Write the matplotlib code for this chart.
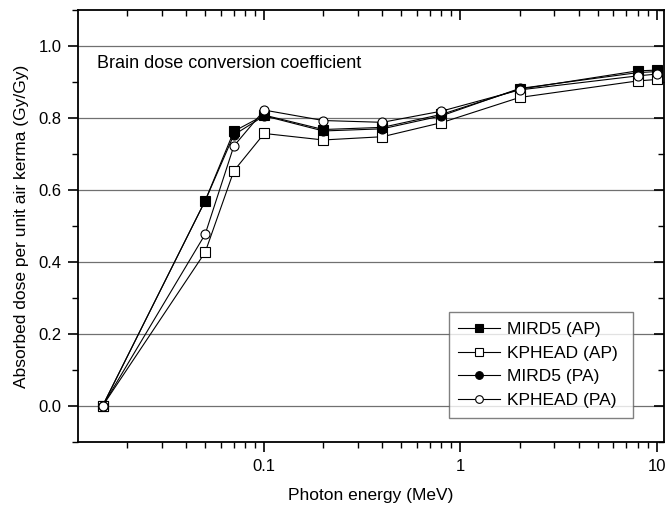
import matplotlib
matplotlib.use("Agg")
import matplotlib.pyplot as plt
from matplotlib.ticker import MultipleLocator, LogLocator, NullFormatter, FixedLocator, FixedFormatter

plt.rcParams['font.family'] = ['Liberation Sans', 'DejaVu Sans']

energy = [0.015, 0.05, 0.07, 0.1, 0.2, 0.4, 0.8, 2, 8, 10]
mird5_ap = [0.0, 0.570, 0.763, 0.808, 0.768, 0.774, 0.810, 0.880, 0.931, 0.933]
kphead_ap = [0.0, 0.427, 0.653, 0.757, 0.739, 0.748, 0.787, 0.857, 0.903, 0.907]
mird5_pa = [0.0, 0.570, 0.753, 0.806, 0.764, 0.770, 0.806, 0.882, 0.926, 0.929]
kphead_pa = [0.0, 0.477, 0.722, 0.822, 0.793, 0.788, 0.819, 0.878, 0.917, 0.922]

series = [
    ("MIRD5 (AP)", mird5_ap, 's', 'black'),
    ("KPHEAD (AP)", kphead_ap, 's', 'white'),
    ("MIRD5 (PA)", mird5_pa, 'o', 'black'),
    ("KPHEAD (PA)", kphead_pa, 'o', 'white'),
]

fig = plt.figure(figsize=(6.67, 5.13), dpi=100)
ax = fig.add_axes([0.117, 0.1384, 0.8785, 0.8421])

for label, vals, m, fc in series:
    ax.plot(energy, vals, '-', color='black', lw=0.8, marker=m, markersize=6.5,
            markerfacecolor=fc, markeredgecolor='black', markeredgewidth=0.8,
            label=label, zorder=3)

ax.set_xscale('log')
ax.set_xlim(0.01125, 10.9)
ax.set_ylim(-0.1, 1.1)

ax.xaxis.set_major_locator(FixedLocator([0.1, 1, 10]))
ax.xaxis.set_major_formatter(FixedFormatter(['0.1', '1', '10']))
ax.xaxis.set_minor_locator(LogLocator(base=10, subs=range(2, 10), numticks=20))
ax.xaxis.set_minor_formatter(NullFormatter())

ax.yaxis.set_major_locator(MultipleLocator(0.2))
ax.yaxis.set_minor_locator(MultipleLocator(0.1))
ax.yaxis.set_major_formatter(matplotlib.ticker.FormatStrFormatter('%.1f'))

ax.grid(True, axis='y', which='major', color='#707070', lw=0.9, zorder=0)
ax.set_axisbelow(True)

ax.tick_params(axis='both', which='major', direction='out', length=7, width=1.2,
               labelsize=12, pad=5)
ax.tick_params(axis='both', which='minor', direction='out', length=4, width=1.0)
ax.tick_params(axis='both', which='both', top=True, right=True)
for t in ax.xaxis.get_major_ticks() + ax.xaxis.get_minor_ticks():
    t.tick2line.set_marker(3)  # inward at top
for t in ax.yaxis.get_major_ticks() + ax.yaxis.get_minor_ticks():
    t.tick2line.set_marker(0)

for s in ax.spines.values():
    s.set_linewidth(1.3)

ax.set_xlabel('Photon energy (MeV)', fontsize=12.5, labelpad=10)
ax.set_ylabel('Absorbed dose per unit air kerma (Gy/Gy)', fontsize=12.5, labelpad=7)

ax.text(0.032, 0.877, 'Brain dose conversion coefficient', transform=ax.transAxes,
        fontsize=13, va='center', ha='left')

leg = ax.legend(loc='lower left', bbox_to_anchor=(0.633, 0.056, 0.314, 0.263),
                mode='expand', borderaxespad=0, fontsize=12.5, frameon=True,
                fancybox=False, edgecolor='#606060', handlelength=2.4,
                handletextpad=0.4, borderpad=0.55, labelspacing=0.5,
                markerscale=0.85)
leg.get_frame().set_linewidth(1.0)

fig.savefig('out.png', dpi=100)
